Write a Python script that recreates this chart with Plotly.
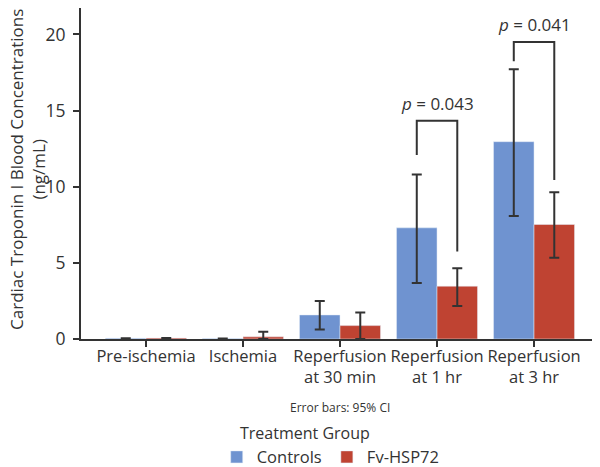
import plotly.graph_objects as go

categories = ["Pre-ischemia", "Ischemia", "Reperfusion<br>at 30 min",
              "Reperfusion<br>at 1 hr", "Reperfusion<br>at 3 hr"]
controls = [0.05, 0.03, 1.58, 7.30, 12.96]
controls_hi = [0.05, 0.03, 2.49, 10.80, 17.72]
controls_lo = [0.05, 0.03, 0.63, 3.67, 8.08]
fv = [0.06, 0.14, 0.88, 3.47, 7.52]
fv_hi = [0.06, 0.48, 1.74, 4.65, 9.64]
fv_lo = [0.06, 0.0, 0.0, 2.16, 5.33]

# significance brackets: (category index, top, left leg bottom, right leg bottom, label)
brackets = [(3, 14.34, 12.09, 5.74, "0.043"), (4, 19.50, 18.25, 10.45, "0.041")]

y_title = "Cardiac Troponin I Blood Concentrations<br>(ng/mL)"

BLUE = "#6f93d0"
RED = "#bf4332"
INK = "#333333"
FONT = "Open Sans"

xs = list(range(len(categories)))

def err(vals, hi, lo):
    return dict(type="data", symmetric=False,
                array=[h - v for v, h in zip(vals, hi)],
                arrayminus=[max(v - l, 0) for v, l in zip(vals, lo)],
                color=INK, thickness=2, width=5)

fig = go.Figure()
fig.add_trace(go.Bar(x=xs, y=controls, name="Controls", marker_color=BLUE,
                     error_y=err(controls, controls_hi, controls_lo)))
fig.add_trace(go.Bar(x=xs, y=fv, name="Fv-HSP72", marker_color=RED,
                     error_y=err(fv, fv_hi, fv_lo)))

bargap = 0.165
off = (1 - bargap) / 4
for idx, top, lb, rb, lab in brackets:
    xl, xr = idx - off, idx + off
    fig.add_shape(type="path",
                  path=f"M {xl},{lb} L {xl},{top} L {xr},{top} L {xr},{rb}",
                  xref="x", yref="y", line=dict(color=INK, width=2))
    fig.add_annotation(x=idx, y=top, xref="x", yref="y", yshift=4,
                       text=f"<i>p</i> = {lab}", showarrow=False,
                       yanchor="bottom", font=dict(size=17, color=INK, family=FONT))

fig.add_annotation(x=-0.1045, y=0.513, xref="paper", yref="paper", text=y_title,
                   textangle=-90, showarrow=False, xanchor="center", yanchor="middle",
                   borderpad=0,
                   font=dict(size=17, color=INK, family=FONT))
fig.add_annotation(x=2, y=-0.2066, xref="x", yref="paper", text="Error bars: 95% CI",
                   showarrow=False, yanchor="middle",
                   font=dict(size=12, color=INK, family=FONT))
fig.add_annotation(x=0.3025, y=-0.285, xref="paper", yref="paper", text="Treatment Group",
                   showarrow=False, xanchor="left", yanchor="middle",
                   font=dict(size=16, color=INK, family=FONT))

fig.update_layout(
    width=592, height=459,
    margin=dict(l=73, r=0, t=0, b=127.5, autoexpand=False),
    barmode="group", bargap=bargap, bargroupgap=0,
    plot_bgcolor="white", paper_bgcolor="white",
    font=dict(family=FONT, color=INK, size=15),
    showlegend=True,
    legend=dict(orientation="h", x=0.2615, y=-0.357, xanchor="left", yanchor="middle",
                font=dict(size=16.5, color=INK), itemwidth=30, traceorder="normal"),
    xaxis=dict(tickmode="array", tickvals=xs, ticktext=categories, automargin=False,
               range=[-0.67, 4.68], showline=True, linecolor=INK, linewidth=2,
               ticks="outside", ticklen=6, tickcolor=INK, tickwidth=1.5,
               ticklabelstandoff=-5,
               tickfont=dict(size=16.5, color=INK), showgrid=False, zeroline=False),
    yaxis=dict(range=[0, 21.74], tickvals=[0, 5, 10, 15, 20], showline=True,
               automargin=False,
               linecolor=INK, linewidth=2, ticks="outside", ticklen=6,
               tickcolor=INK, tickwidth=1.5, tickfont=dict(size=17.5, color=INK),
               ticklabelstandoff=4,
               showgrid=False, zeroline=False),
)

fig.write_html("out.html")
